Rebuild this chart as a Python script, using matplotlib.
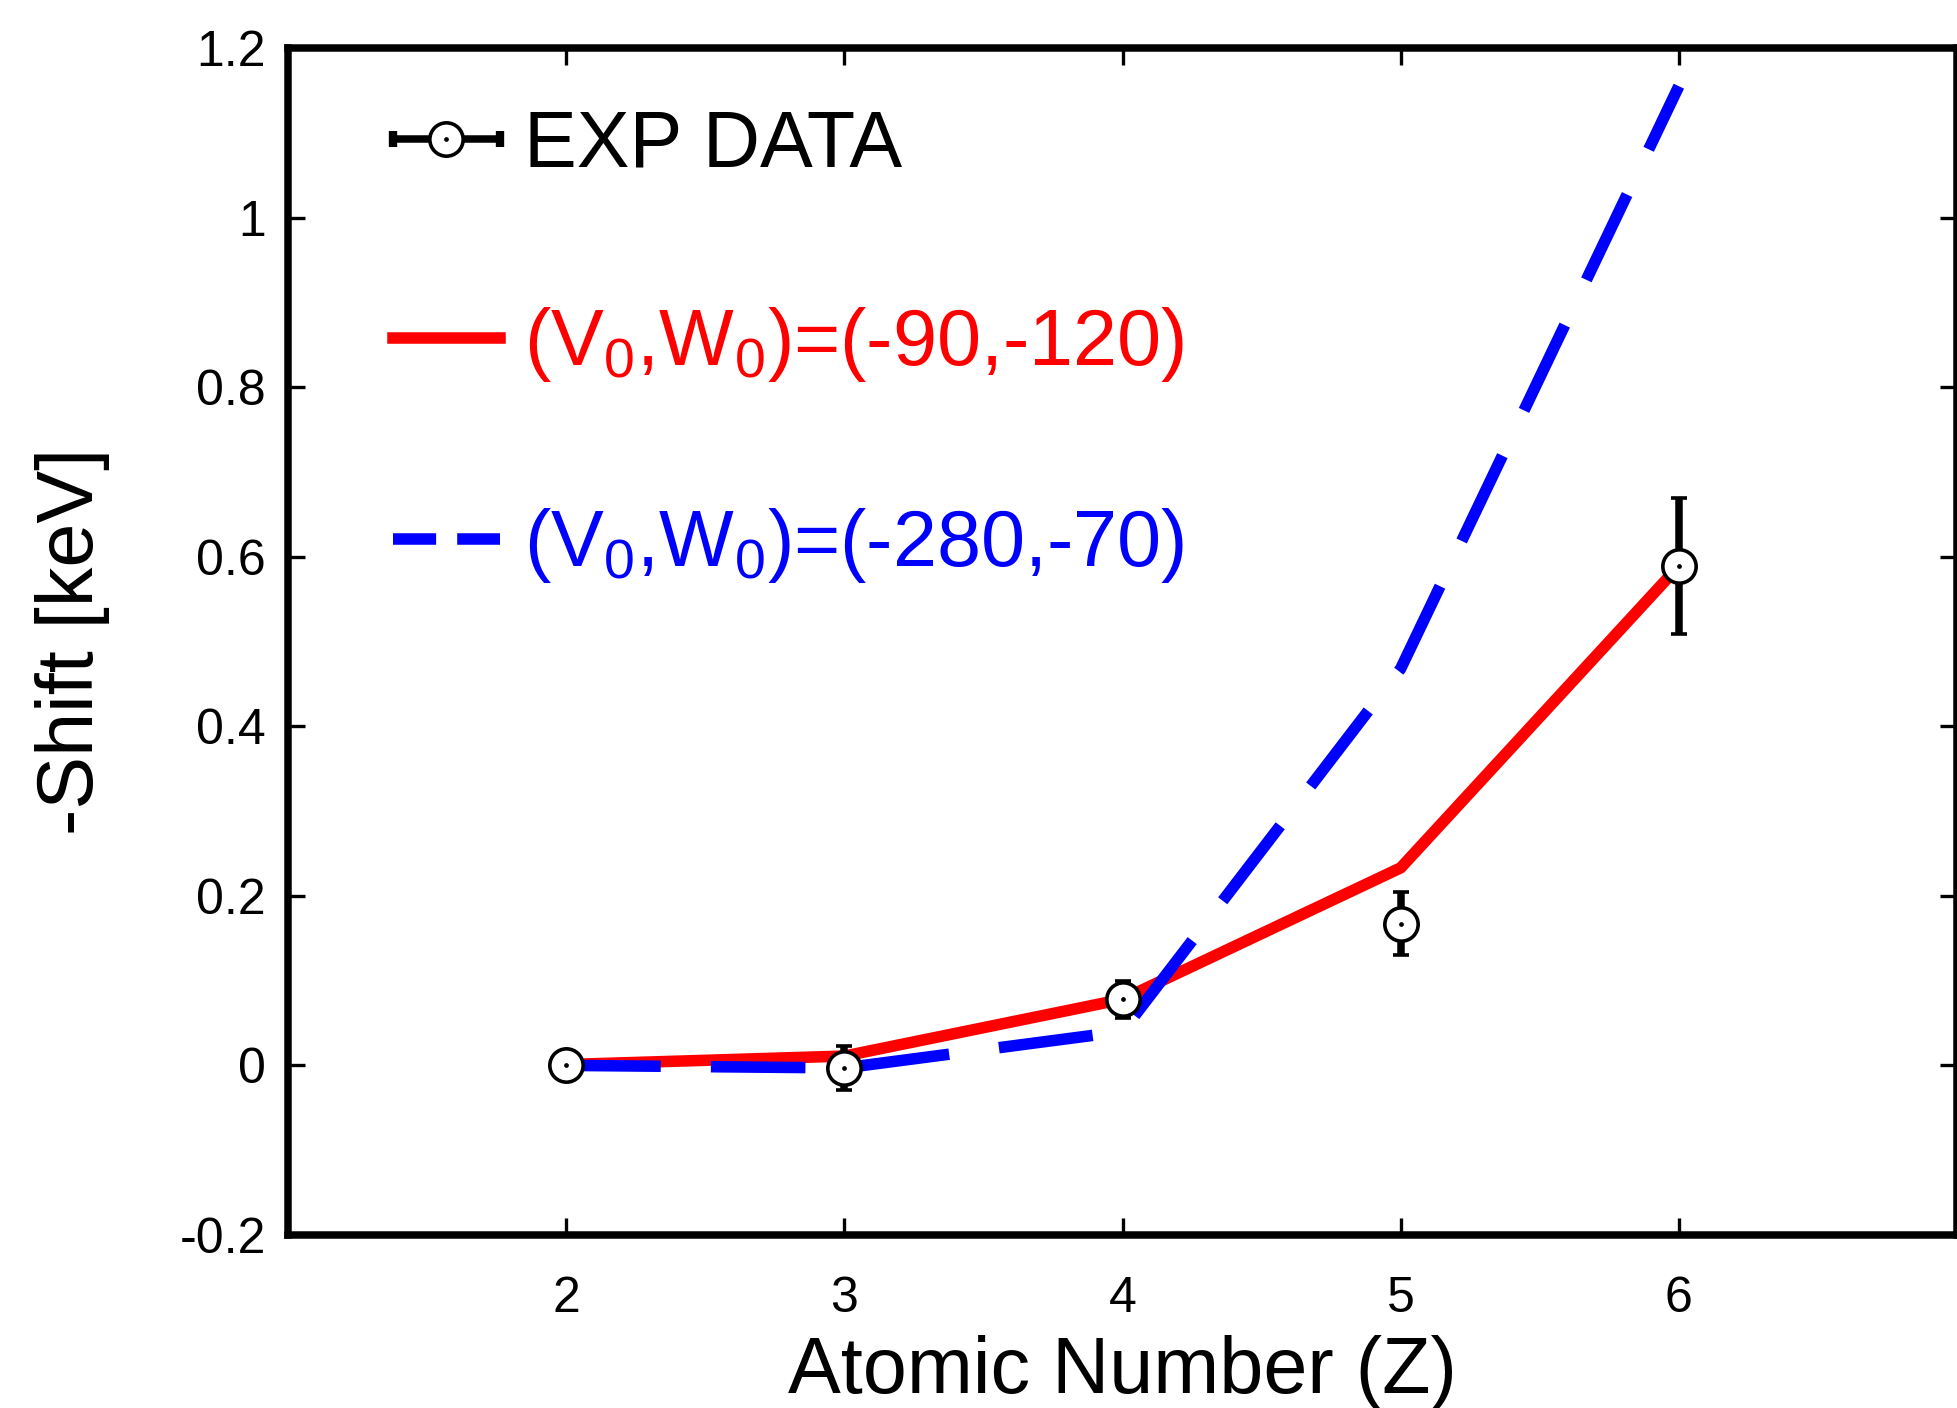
import matplotlib
matplotlib.use("Agg")
import matplotlib.pyplot as plt
from matplotlib.lines import Line2D
from matplotlib.collections import LineCollection
from matplotlib.container import ErrorbarContainer
from matplotlib.legend_handler import HandlerErrorbar

plt.rcParams['font.family'] = ['Liberation Sans', 'DejaVu Sans']
plt.rcParams['mathtext.fontset'] = 'custom'
plt.rcParams['mathtext.rm'] = 'Liberation Sans'

# atomic number Z
z = [2, 3, 4, 5, 6]

# measured shift and its error bars
exp_shift = [0.0, -0.003, 0.078, 0.167, 0.589]
exp_err = [0.0, 0.026, 0.022, 0.037, 0.080]

# calculated shifts for the two potentials
shift_90_120 = [0.001, 0.011, 0.078, 0.233, 0.589]
shift_280_70 = [0.0, -0.003, 0.040, 0.468, 1.155]

exp_label = 'EXP DATA'
red_label = r'(V$\mathregular{_0}$,W$\mathregular{_0}$)=(-90,-120)'
blue_label = r'(V$\mathregular{_0}$,W$\mathregular{_0}$)=(-280,-70)'

xticks = [2, 3, 4, 5, 6]
yticks = [-0.2, 0.0, 0.2, 0.4, 0.6, 0.8, 1.0, 1.2]
ytick_labels = ['-0.2', '0', '0.2', '0.4', '0.6', '0.8', '1', '1.2']

fig = plt.figure(figsize=(19.57, 14.08), dpi=100)
ax = fig.add_axes([0.1472, 0.1229, 1 - 0.1472, 0.9659 - 0.1229])

red_line, = ax.plot(z, shift_90_120, color='red', lw=8.3, zorder=2)
ax.plot(z, shift_280_70, color='blue', lw=8.3, dashes=(8.2, 4.35), zorder=2)

# experimental points: open circle with a dot in the middle
ax.errorbar(z, exp_shift, yerr=exp_err, fmt='o', ms=24, mfc='white', mec='black',
            mew=2.6, ecolor='black', elinewidth=5.4, capsize=6, capthick=6, zorder=3)
ax.plot(z, exp_shift, 'o', color='black', ms=2.4, zorder=4)

ax.set_xlim(1, 7)
ax.set_ylim(-0.2, 1.2)
ax.set_xticks(xticks)
ax.set_xticklabels([str(v) for v in xticks])
ax.set_yticks(yticks)
ax.set_yticklabels(ytick_labels)

ax.tick_params(direction='in', length=12, width=2.4, top=True, right=True, labelsize=36)
ax.tick_params(axis='x', pad=29.5)
ax.tick_params(axis='y', pad=16)
for sp in ax.spines.values():
    sp.set_linewidth(5.4)

ax.set_xlabel('Atomic Number (Z)', fontsize=57)
ax.xaxis.set_label_coords(0.5, -0.0842)
ax.set_ylabel('-Shift [keV]', fontsize=57)
ax.yaxis.set_label_coords(-0.1066, 0.5)

# legend proxies (horizontal error bar sample, shorter dashes)
err_line = Line2D([], [], ls='none', marker='o', ms=24, mfc='white', mec='black', mew=2.6)
err_cap = Line2D([], [], ls='none', color='black', mew=6, ms=12)
err_bar = LineCollection([], colors='black', linewidths=5.4)
exp_handle = ErrorbarContainer((err_line, (err_cap, err_cap), (err_bar,)),
                               has_xerr=True, has_yerr=False)
dot_handle = Line2D([], [], ls='none', marker='o', ms=2.4, color='black')
blue_proxy = Line2D([], [], color='blue', lw=8.3, dashes=(3.74, 1.83))

leg = ax.legend([(exp_handle, dot_handle), red_line, blue_proxy],
                [exp_label, red_label, blue_label],
                loc='upper left', bbox_to_anchor=(0.0629, 0.949), frameon=False,
                fontsize=57, handlelength=1.35, handletextpad=0.3, labelspacing=1.54,
                borderpad=0, borderaxespad=0,
                handler_map={ErrorbarContainer: HandlerErrorbar(xerr_size=0.67)})
for t, c in zip(leg.get_texts(), ['black', 'red', 'blue']):
    t.set_color(c)

fig.savefig('out.png', dpi=100)
